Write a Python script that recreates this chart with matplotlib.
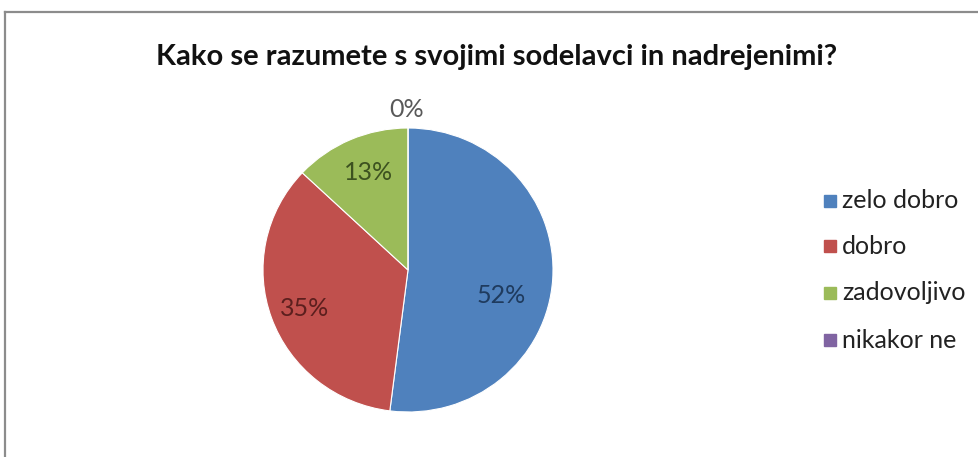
import matplotlib.pyplot as plt
from matplotlib.patches import Rectangle
from matplotlib.lines import Line2D

# survey answers
categories = ["zelo dobro", "dobro", "zadovoljivo", "nikakor ne"]
shares = [52, 35, 13, 0]
colors = ["#4F81BD", "#C0504D", "#9BBB59", "#8064A2"]
label_colors = ["#1F3B5E", "#5C1F1E", "#3D5220", "#595959"]
# where each percentage label sits, in pie-radius units
label_pos = [(0.64, -0.18), (-0.71, -0.27), (-0.27, 0.69), (-0.01, 1.13)]

W, H = 979, 457
fig = plt.figure(figsize=(W / 100, H / 100), dpi=100)
fig.patch.set_facecolor("white")

# chart area border (left and top edges visible)
fig.add_artist(Line2D([5 / W, 5 / W], [0, 1 - 12 / H], transform=fig.transFigure,
                      color="#8c8c8c", lw=1.6))
fig.add_artist(Line2D([5 / W, 1], [1 - 12 / H, 1 - 12 / H], transform=fig.transFigure,
                      color="#8c8c8c", lw=1.6))

fig.text(497 / W, 1 - 57 / H, "Kako se razumete s svojimi sodelavci in nadrejenimi?",
         ha="center", va="center", fontsize=21, fontweight="bold", family="Lato",
         color="#111111")

# pie axes: centre (408, 270) px, radius ~145 x 142 px
cx, cy = 408, 270
rx, ry = 145, 142
lim = 1.25
ax = fig.add_axes([(cx - lim * rx) / W, (H - cy - lim * ry) / H,
                   2 * lim * rx / W, 2 * lim * ry / H])
wedges, _ = ax.pie(shares, colors=colors, startangle=90, counterclock=False,
                   radius=1.0, wedgeprops=dict(linewidth=0.8, edgecolor="white"))
ax.set_aspect("auto")
ax.set_xlim(-lim, lim)
ax.set_ylim(-lim, lim)
ax.axis("off")

for val, (x, y), c in zip(shares, label_pos, label_colors):
    ax.text(x, y, f"{val}%", ha="center", va="center", fontsize=18,
            family="Lato", color=c)

# legend
leg_y = [201, 246, 293, 340]
for name, c, y in zip(categories, colors, leg_y):
    fig.add_artist(Rectangle((824 / W, 1 - (y + 6) / H), 12 / W, 12 / H,
                             transform=fig.transFigure, color=c))
    fig.text(842 / W, 1 - y / H, name, ha="left", va="center", fontsize=18,
             family="Lato", color="#222222")

fig.savefig("out.png", dpi=100)
